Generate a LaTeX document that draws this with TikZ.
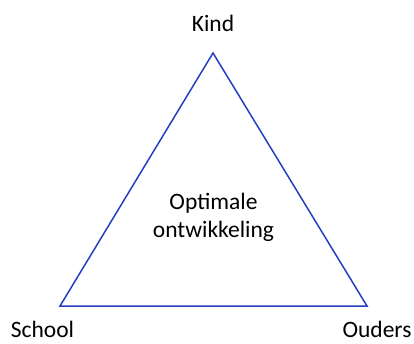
\documentclass[tikz,border=0pt]{standalone}
\usepackage{fontspec}
\setmainfont{Carlito}
\definecolor{lijnblauw}{RGB}{38,62,192}
\tikzset{
  hoek/.style={font=\fontsize{23.5}{28}\selectfont, anchor=base, inner sep=0pt},
  midden/.style={font=\fontsize{23.5}{28}\selectfont, align=center, inner sep=0pt}
}

\begin{document}
\begin{tikzpicture}[x=1pt,y=1pt]
    \useasboundingbox (0,0) rectangle (414,343);
    \coordinate (top) at (213,290);
    \coordinate (links) at (60,37);
    \coordinate (rechts) at (367,37);
    \draw[lijnblauw, line width=1.5pt, line join=miter] (top) -- (links) -- (rechts) -- cycle;

    \node[hoek] (kind) at (213,311) {Kind};
    \node[hoek] (school) at (42.5,5.5) {School};
    \node[hoek] (ouders) at (377,5.5) {Ouders};
    \node[midden] (optimaal) at (213.5,126) {Optimale\\ontwikkeling};
\end{tikzpicture}
\end{document}
